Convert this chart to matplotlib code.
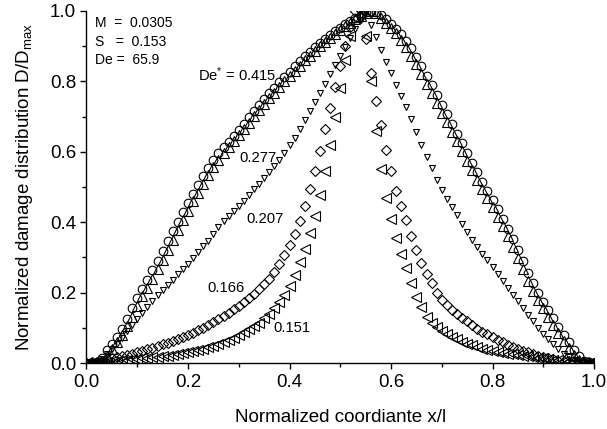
import matplotlib
matplotlib.use("Agg")
import matplotlib.pyplot as plt
from matplotlib.ticker import MultipleLocator

plt.rcParams['font.family'] = ['Liberation Sans', 'DejaVu Sans']
plt.rcParams['mathtext.fontset'] = 'custom'
plt.rcParams['mathtext.rm'] = 'Liberation Sans'
plt.rcParams['mathtext.it'] = 'Liberation Sans:italic'

x_coord = [0.00, 0.01, 0.02, 0.03, 0.04, 0.05, 0.06, 0.07, 0.08, 0.09,
           0.10, 0.11, 0.12, 0.13, 0.14, 0.15, 0.16, 0.17, 0.18, 0.19,
           0.20, 0.21, 0.22, 0.23, 0.24, 0.25, 0.26, 0.27, 0.28, 0.29,
           0.30, 0.31, 0.32, 0.33, 0.34, 0.35, 0.36, 0.37, 0.38, 0.39,
           0.40, 0.41, 0.42, 0.43, 0.44, 0.45, 0.46, 0.47, 0.48, 0.49,
           0.50, 0.51, 0.52, 0.53, 0.54, 0.55, 0.56, 0.57, 0.58, 0.59,
           0.60, 0.61, 0.62, 0.63, 0.64, 0.65, 0.66, 0.67, 0.68, 0.69,
           0.70, 0.71, 0.72, 0.73, 0.74, 0.75, 0.76, 0.77, 0.78, 0.79,
           0.80, 0.81, 0.82, 0.83, 0.84, 0.85, 0.86, 0.87, 0.88, 0.89,
           0.90, 0.91, 0.92, 0.93, 0.94, 0.95, 0.96, 0.97, 0.98, 0.99, 1.00]

# De* = 0.415 (circles)
d_0415 = [0, 0, 0.003, 0.015, 0.037, 0.055, 0.075, 0.097, 0.125, 0.155,
          0.185, 0.21, 0.237, 0.265, 0.29, 0.318, 0.347, 0.374, 0.401, 0.428,
          0.455, 0.481, 0.506, 0.53, 0.554, 0.576, 0.596, 0.613, 0.629, 0.645,
          0.662, 0.68, 0.698, 0.716, 0.733, 0.75, 0.766, 0.782, 0.798, 0.813,
          0.828, 0.843, 0.857, 0.871, 0.884, 0.897, 0.909, 0.921, 0.932, 0.943,
          0.953, 0.963, 0.972, 0.981, 0.989, 0.996, 1.0, 0.998, 0.99, 0.977,
          0.963, 0.95, 0.936, 0.915, 0.894, 0.869, 0.844, 0.816, 0.789, 0.761,
          0.733, 0.706, 0.678, 0.651, 0.624, 0.597, 0.569, 0.542, 0.515, 0.488,
          0.462, 0.437, 0.41, 0.382, 0.352, 0.322, 0.29, 0.257, 0.226, 0.198,
          0.174, 0.151, 0.127, 0.103, 0.08, 0.06, 0.038, 0.019, 0.007, 0.002, 0]

# De* = 0.277 (up triangles)
d_0277 = [0, 0, 0.001, 0.006, 0.02, 0.04, 0.06, 0.08, 0.104, 0.132,
          0.162, 0.19, 0.214, 0.24, 0.267, 0.293, 0.322, 0.35, 0.378, 0.405,
          0.432, 0.459, 0.484, 0.509, 0.533, 0.556, 0.578, 0.597, 0.614, 0.631,
          0.648, 0.665, 0.683, 0.701, 0.718, 0.735, 0.752, 0.768, 0.784, 0.8,
          0.815, 0.83, 0.845, 0.86, 0.873, 0.887, 0.9, 0.912, 0.924, 0.935,
          0.946, 0.957, 0.967, 0.977, 0.987, 0.995, 0.999, 0.993, 0.981, 0.966,
          0.952, 0.938, 0.918, 0.897, 0.873, 0.848, 0.822, 0.794, 0.766, 0.739,
          0.711, 0.684, 0.657, 0.63, 0.602, 0.575, 0.548, 0.521, 0.494, 0.468,
          0.442, 0.416, 0.389, 0.36, 0.33, 0.298, 0.266, 0.234, 0.205, 0.18,
          0.156, 0.132, 0.108, 0.084, 0.063, 0.042, 0.022, 0.009, 0.003, 0.001, 0]

# De* = 0.207 (small down triangles)
d_0207 = [0, 0, 0.003, 0.012, 0.025, 0.04, 0.055, 0.072, 0.09, 0.108,
          0.126, 0.143, 0.16, 0.176, 0.192, 0.207, 0.222, 0.237, 0.252, 0.267,
          0.282, 0.298, 0.314, 0.331, 0.348, 0.366, 0.385, 0.403, 0.418, 0.432,
          0.446, 0.46, 0.478, 0.494, 0.509, 0.526, 0.543, 0.56, 0.578, 0.597,
          0.618, 0.64, 0.664, 0.69, 0.716, 0.742, 0.768, 0.794, 0.82, 0.846,
          0.872, 0.898, 0.924, 0.95, 0.975, 1.0, 0.96, 0.925, 0.89, 0.855,
          0.824, 0.79, 0.758, 0.727, 0.693, 0.657, 0.618, 0.586, 0.553, 0.52,
          0.491, 0.466, 0.443, 0.42, 0.396, 0.372, 0.35, 0.33, 0.311, 0.292,
          0.272, 0.252, 0.232, 0.212, 0.193, 0.175, 0.156, 0.137, 0.118, 0.1,
          0.083, 0.067, 0.053, 0.039, 0.027, 0.017, 0.009, 0.004, 0.001, 0, 0]

# De* = 0.166 (diamonds)
d_0166 = [0, 0.002, 0.004, 0.007, 0.01, 0.013, 0.016, 0.019, 0.023, 0.027,
          0.031, 0.035, 0.04, 0.044, 0.049, 0.054, 0.058, 0.063, 0.068, 0.074,
          0.08, 0.086, 0.093, 0.1, 0.108, 0.116, 0.124, 0.133, 0.143, 0.153,
          0.163, 0.173, 0.185, 0.197, 0.21, 0.224, 0.24, 0.259, 0.28, 0.308,
          0.336, 0.367, 0.404, 0.447, 0.495, 0.546, 0.603, 0.665, 0.725, 0.785,
          0.845, 0.9, 0.955, 1.0, 0.985, 0.92, 0.825, 0.745, 0.675, 0.605,
          0.545, 0.49, 0.445, 0.405, 0.362, 0.32, 0.283, 0.253, 0.226, 0.2,
          0.18, 0.165, 0.151, 0.139, 0.128, 0.118, 0.108, 0.098, 0.089, 0.082,
          0.074, 0.066, 0.059, 0.052, 0.046, 0.041, 0.035, 0.03, 0.026, 0.021,
          0.017, 0.013, 0.01, 0.007, 0.005, 0.003, 0.002, 0.001, 0, 0, 0]

# De* = 0.151 (left triangles)
d_0151 = [0, 0.001, 0.002, 0.003, 0.004, 0.005, 0.006, 0.008, 0.009, 0.01,
          0.012, 0.013, 0.015, 0.016, 0.018, 0.02, 0.021, 0.023, 0.025, 0.028,
          0.03, 0.033, 0.037, 0.041, 0.045, 0.049, 0.054, 0.059, 0.065, 0.072,
          0.079, 0.087, 0.096, 0.105, 0.115, 0.127, 0.14, 0.155, 0.172, 0.193,
          0.22, 0.25, 0.287, 0.325, 0.37, 0.418, 0.478, 0.546, 0.62, 0.7,
          0.78, 0.86, 0.93, 0.98, 1.0, 0.93, 0.8, 0.66, 0.55, 0.469,
          0.41, 0.355, 0.31, 0.27, 0.226, 0.188, 0.159, 0.132, 0.114, 0.101,
          0.091, 0.082, 0.074, 0.067, 0.061, 0.055, 0.05, 0.045, 0.041, 0.037,
          0.034, 0.032, 0.029, 0.027, 0.025, 0.023, 0.021, 0.019, 0.017, 0.015,
          0.013, 0.011, 0.009, 0.008, 0.006, 0.005, 0.004, 0.003, 0.002, 0.001, 0]

params_text = ["M  =  0.0305", "S   =  0.153", "De =  65.9"]
curve_labels = ["De$^{*}$ = 0.415", "0.277", "0.207", "0.166", "0.151"]

fig = plt.figure(figsize=(6.07, 4.29), dpi=100)
ax = fig.add_axes([0.1425, 0.1538, 0.8361, 0.8206])

common = dict(linestyle='none', mfc='none', mec='black', mew=0.8)
ax.plot(x_coord, d_0415, marker='o', ms=6.2, **common)
ax.plot(x_coord, d_0277, marker='^', ms=6.8, **common)
ax.plot(x_coord, d_0207, marker='v', ms=3.8, **common)
ax.plot(x_coord, d_0166, marker='D', ms=5.2, **common)
ax.plot(x_coord, d_0151, marker='<', ms=6.8, **common)

ax.set_xlim(0, 1.0)
ax.set_ylim(0, 1.0)
ax.xaxis.set_major_locator(MultipleLocator(0.2))
ax.xaxis.set_minor_locator(MultipleLocator(0.1))
ax.yaxis.set_major_locator(MultipleLocator(0.2))
ax.yaxis.set_minor_locator(MultipleLocator(0.1))
ax.xaxis.set_major_formatter(plt.FormatStrFormatter('%.1f'))
ax.yaxis.set_major_formatter(plt.FormatStrFormatter('%.1f'))

for s in ['top', 'right']:
    ax.spines[s].set_visible(False)
for s in ['left', 'bottom']:
    ax.spines[s].set_linewidth(1.0)
ax.tick_params(which='major', direction='out', length=4.5, width=1.0, labelsize=13.5)
ax.tick_params(axis='x', which='major', pad=3.5)
ax.tick_params(axis='y', which='major', pad=3)
ax.tick_params(which='minor', direction='out', length=2.8, width=1.0)

ax.set_xlabel("Normalized coordiante x/l", fontsize=13.5, labelpad=13)
ax.set_ylabel("Normalized damage distribution D/D$_{\\rm max}$", fontsize=13.5, labelpad=10.5)

ys = [0.966, 0.912, 0.861]
for t, yv in zip(params_text, ys):
    ax.text(0.017, yv, t, fontsize=10, ha='left', va='center')

label_pos = [(0.22, 0.818), (0.302, 0.582), (0.316, 0.409), (0.239, 0.213), (0.368, 0.099)]
for t, (xv, yv) in zip(curve_labels, label_pos):
    ax.text(xv, yv, t, fontsize=10.6, ha='left', va='center')

fig.savefig("out.png", dpi=100)
